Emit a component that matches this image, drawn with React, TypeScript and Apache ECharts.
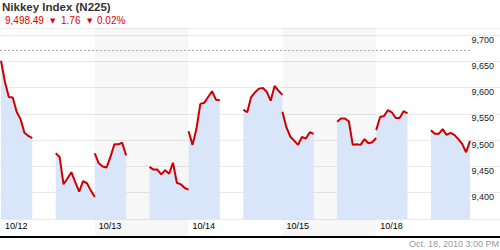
import React, { useEffect, useRef } from "react";
import * as echarts from "echarts";

// ---- texts ----
const chartTitle = "Nikkey Index (N225)";
const lastValue = "9,498.49";
const changeValue = "1.76";
const changePct = "0.02%";
const timestamp = "Oct. 18, 2010 3:00 PM";

// ---- categories ----
const dayLabels = ["10/12", "10/13", "10/14", "10/15", "10/18"];
const shadedDays = [false, true, false, true, false];

// ---- values: 15-minute points, morning 9:00-11:00, afternoon 12:30-15:00 ----
const am1012 = [9651, 9611, 9582, 9581, 9554, 9540, 9514, 9508, 9504];
const pm1012 = [9475, 9468, 9416, 9427, 9439, 9420, 9402, 9422, 9418, 9404, 9392];
const am1013 = [9475, 9456, 9450, 9448, 9468, 9492, 9492, 9495, 9471];
const pm1013 = [9449, 9444, 9444, 9435, 9443, 9436, 9457, 9419, 9416, 9409, 9406];
const am1014 = [9517, 9491, 9521, 9569, 9571, 9582, 9593, 9577, 9576];
const pm1014 = [9558, 9553, 9582, 9591, 9598, 9599, 9592, 9575, 9603, 9594, 9586];
const am1015 = [9554, 9525, 9507, 9499, 9491, 9506, 9503, 9515, 9512];
const pm1015 = [9535, 9541, 9541, 9536, 9491, 9492, 9491, 9502, 9494, 9496, 9504];
const am1018 = [9519, 9544, 9546, 9557, 9553, 9542, 9542, 9555, 9551];
const pm1018 = [9519, 9512, 9512, 9521, 9510, 9514, 9510, 9502, 9493, 9477, 9498.49];

const amSessions = [am1012, am1013, am1014, am1015, am1018];
const pmSessions = [pm1012, pm1013, pm1014, pm1015, pm1018];

const refLevel = 9671;
const yMin = 9350;
const yMax = 9700;
const yStep = 50;

// trading-minute time scale (each day = 360 minutes: 9:00-15:00)
const DAY_MIN = 360;
const AM_OFFSET = 0;
const PM_OFFSET = 210;
const STEP = 15;

const FONT = "'Liberation Sans', Arial, sans-serif";

function buildData() {
  const out: any[] = [];
  dayLabels.forEach((_, d) => {
    const base = d * DAY_MIN;
    const am = amSessions[d];
    const pm = pmSessions[d];
    am.forEach((v, i) => out.push([base + AM_OFFSET + i * STEP, v]));
    out.push([base + AM_OFFSET + (am.length - 1) * STEP, "-"]);
    pm.forEach((v, i) => out.push([base + PM_OFFSET + i * STEP, v]));
    out.push([base + PM_OFFSET + (pm.length - 1) * STEP, "-"]);
  });
  return out;
}

export default function App() {
  const ref = useRef<HTMLDivElement>(null);

  useEffect(() => {
    document.body.style.margin = "0";
    if (!ref.current) return;
    const chart = echarts.init(ref.current, undefined, { renderer: "svg" });

    const totalMin = dayLabels.length * DAY_MIN;
    // plot data spans x=1..470 of the 500px canvas
    const pxPerMin = 469 / totalMin;
    const xMin = -1 / pxPerMin;
    const xMax = totalMin + 30 / pxPerMin;

    const bands = shadedDays
      .map((s, d) => (s ? [{ xAxis: d * DAY_MIN }, { xAxis: (d + 1) * DAY_MIN }] : null))
      .filter(Boolean);

    const option: any = {
      animation: false,
      backgroundColor: "#ffffff",
      textStyle: { fontFamily: FONT },
      grid: [
        { left: 0, right: 0, top: 28, bottom: 13.5 },
        { left: 0, right: 0, top: 35, bottom: 31 },
      ],
      xAxis: [
        {
          gridIndex: 0,
          type: "value",
          min: xMin,
          max: xMax,
          position: "bottom",
          axisLine: { show: true, lineStyle: { color: "#000000", width: 2 } },
          axisTick: { show: false },
          axisLabel: { show: false },
          splitLine: { show: false },
        },
        {
          gridIndex: 0,
          type: "value",
          min: xMin,
          max: xMax,
          position: "top",
          axisLine: { show: true, lineStyle: { color: "#efefef", width: 1 } },
          axisTick: { show: false },
          axisLabel: { show: false },
          splitLine: { show: false },
        },
        {
          gridIndex: 1,
          type: "value",
          min: xMin,
          max: xMax,
          axisLine: { show: false },
          axisTick: { show: false },
          splitLine: { show: false },
          axisLabel: {
            show: true,
            customValues: dayLabels.map((_, d) => d * DAY_MIN),
            formatter: (v: number) => dayLabels[Math.round(v / DAY_MIN)] ?? "",
            align: "left",
            padding: [0, 0, 0, 4],
            margin: 2,
            fontSize: 9,
            color: "#000000",
            fontFamily: FONT,
          },
        },
      ],
      yAxis: [
        {
          gridIndex: 0,
          type: "value",
          min: 0,
          max: 1,
          show: false,
        },
        {
          gridIndex: 1,
          type: "value",
          min: yMin,
          max: yMax,
          interval: yStep,
          position: "right",
          axisLine: { show: false },
          axisTick: { show: false },
          splitLine: { show: true, lineStyle: { color: "#e9e9e9", width: 1 } },
          axisLabel: {
            inside: true,
            margin: 6,
            showMinLabel: false,
            verticalAlign: "top",
            fontSize: 9,
            color: "#222222",
            fontFamily: FONT,
            formatter: (v: number) => v.toLocaleString("en-US"),
          },
        },
      ],
      series: [
        {
          type: "line",
          xAxisIndex: 0,
          yAxisIndex: 0,
          data: [
            [xMin, -1],
            [xMax, -1],
          ],
          showSymbol: false,
          silent: true,
          lineStyle: { opacity: 0 },
          markArea: {
            silent: true,
            itemStyle: { color: "rgba(0,0,0,0.032)" },
            data: bands,
          },
        },
        {
          type: "line",
          xAxisIndex: 2,
          yAxisIndex: 1,
          data: buildData(),
          showSymbol: false,
          connectNulls: false,
          lineStyle: { color: "#cc0000", width: 2 },
          areaStyle: { color: "#d9e5f8", opacity: 1 },
          markLine: {
            silent: true,
            symbol: "none",
            label: { show: false },
            lineStyle: { color: "#aaaaaa", width: 1, type: [2, 2] },
            data: [
              [
                { coord: [xMin, refLevel] },
                { coord: [totalMin, refLevel] },
              ],
            ],
          },
        },
      ],
      graphic: [
        {
          type: "text",
          left: 2,
          top: 1,
          style: {
            text: chartTitle,
            font: `bold 11.5px ${FONT}`,
            fill: "#333333",
          },
        },
        {
          type: "text",
          left: 5,
          top: 15,
          style: { text: lastValue, font: `10px ${FONT}`, fill: "#e00000" },
        },
        {
          type: "text",
          left: 50,
          top: 17,
          style: { text: "▼", font: `7px 'DejaVu Sans', sans-serif`, fill: "#e00000" },
        },
        {
          type: "text",
          left: 61,
          top: 15,
          style: { text: changeValue, font: `10px ${FONT}`, fill: "#e00000" },
        },
        {
          type: "text",
          left: 87,
          top: 17,
          style: { text: "▼", font: `7px 'DejaVu Sans', sans-serif`, fill: "#e00000" },
        },
        {
          type: "text",
          left: 97,
          top: 15,
          style: { text: changePct, font: `10px ${FONT}`, fill: "#e00000" },
        },
        {
          type: "text",
          right: 1,
          top: 239,
          style: { text: timestamp, font: `9px ${FONT}`, fill: "#999999" },
        },
      ],
    };

    chart.setOption(option);
    return () => chart.dispose();
  }, []);

  return (
    <div
      ref={ref}
      style={{ width: 500, height: 250, position: "fixed", left: 0, top: 0 }}
    />
  );
}
